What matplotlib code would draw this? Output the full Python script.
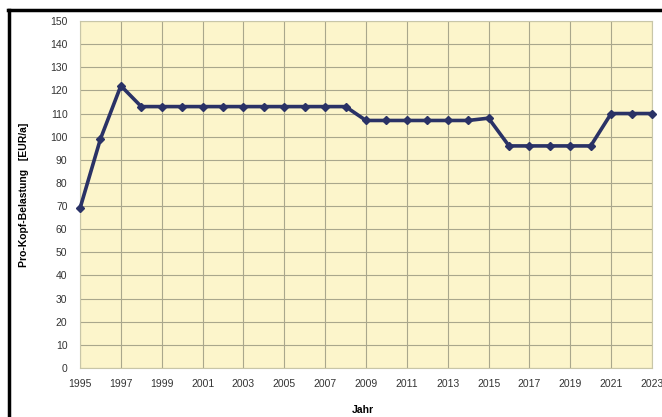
import matplotlib
matplotlib.use("Agg")
import matplotlib.pyplot as plt
from matplotlib.lines import Line2D

# Pro-Kopf-Belastung je Jahr
years = list(range(1995, 2024))
values = [69, 99, 122, 113, 113, 113, 113, 113, 113, 113, 113, 113, 113, 113,
          107, 107, 107, 107, 107, 107, 108,
          96, 96, 96, 96, 96, 110, 110, 110]

plt.rcParams['font.family'] = ['Liberation Sans', 'DejaVu Sans']

W, H = 662, 417
fig = plt.figure(figsize=(W / 100, H / 100), dpi=100)
fig.patch.set_facecolor('white')

ax = fig.add_axes([80 / W, 1 - 368 / H, (652 - 80) / W, (368 - 21) / H])
ax.set_facecolor('#fcf5cb')

ax.plot(years, values, '-D', color='#2a3266', linewidth=2.6, markersize=4.5,
        solid_joinstyle='round', solid_capstyle='round', clip_on=False, zorder=3)

ax.set_xlim(1995, 2023)
ax.set_ylim(0, 150)
ax.set_xticks(range(1995, 2024, 2))
ax.set_yticks(range(0, 151, 10))
ax.grid(True, color='#a9a78c', linewidth=0.8)
ax.set_axisbelow(True)
ax.tick_params(axis='both', labelsize=7.5, colors='#333333', length=0, pad=8)
ax.tick_params(axis='y', pad=9)
for s in ax.spines.values():
    s.set_color('#c8c6a8')
    s.set_linewidth(0.8)

fig.text(24 / W, 1 - 195 / H, 'Pro-Kopf-Belastung   [EUR/a]', rotation=90,
         ha='center', va='center', fontsize=7.5, fontweight='bold')
fig.text(363 / W, 1 - 410 / H, 'Jahr', ha='center', va='center',
         fontsize=7.5, fontweight='bold')

# outer frame (cut at right and bottom)
fig.add_artist(Line2D([8 / W, 1], [1 - 10 / H, 1 - 10 / H], color='black',
                      linewidth=2.5, transform=fig.transFigure))
fig.add_artist(Line2D([9 / W, 9 / W], [0, 1 - 10 / H], color='black',
                      linewidth=2.5, transform=fig.transFigure))

fig.savefig('out.png', dpi=100)
